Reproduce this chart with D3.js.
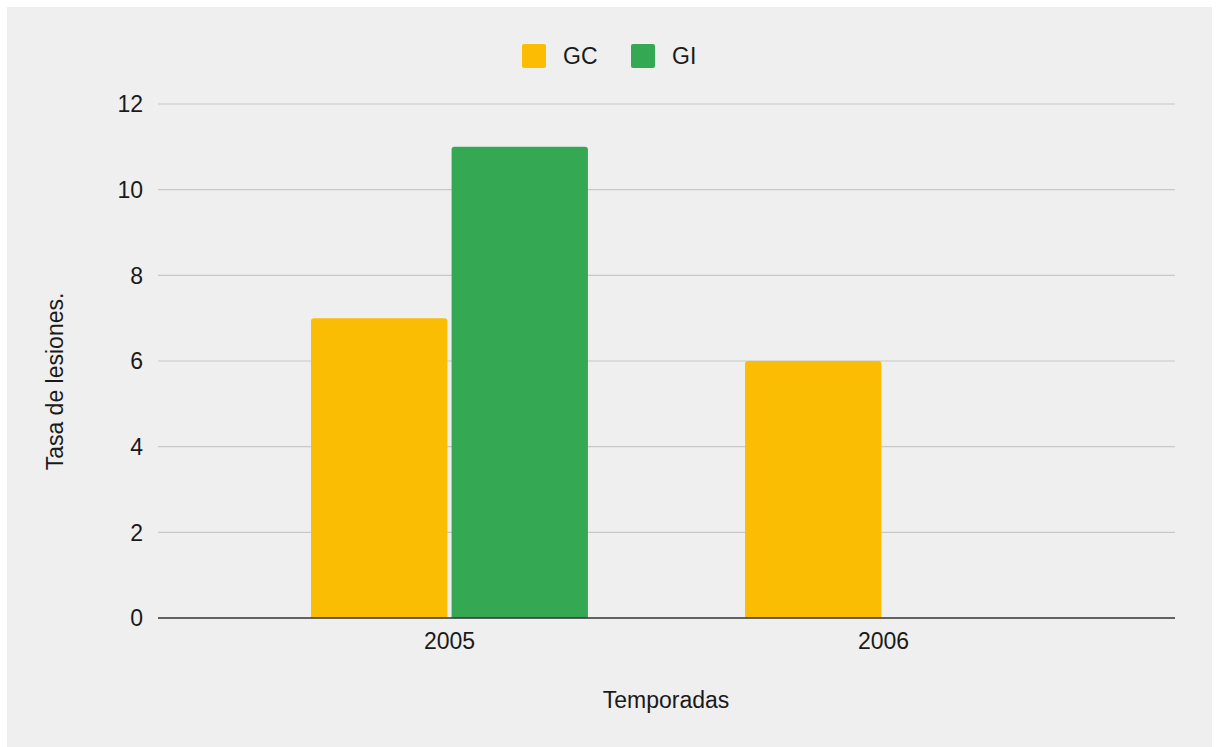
<!DOCTYPE html>
<html>
<head>
<meta charset="utf-8">
<script src="https://cdn.jsdelivr.net/npm/d3@7"></script>
<style>
  body { margin: 0; background: #fff; font-family: "Liberation Sans", Arial, sans-serif; }
</style>
</head>
<body>
<div class="chart"></div>
<script>
// chart data
const years = ["2005", "2006"];
const series = ["GC", "GI"];
const gcValues = [7, 6];
const giValues = [11, 0];
const yTicks = [0, 2, 4, 6, 8, 10, 12];

const width = 1217;
const height = 747;
const colors = { GC: "#fbbc04", GI: "#34a853" };
const fontSize = 23;
const textColor = "#1a1a1a";

const svg = d3.select(".chart")
  .append("svg")
    .attr("width", width)
    .attr("height", height);

// grey panel
svg.append("rect")
  .attr("x", 7).attr("y", 7)
  .attr("width", 1205).attr("height", 740)
  .attr("fill", "#efefef");

const plotLeft = 158, plotRight = 1175, plotTop = 104, plotBottom = 618;

const y = d3.scaleLinear().domain([0, 12]).range([plotBottom, plotTop]);

const x0 = d3.scaleBand()
  .domain(years)
  .range([plotLeft, plotRight])
  .paddingInner(0.362)
  .paddingOuter(0.3525);

const x1 = d3.scaleBand()
  .domain(series)
  .range([0, x0.bandwidth()])
  .paddingInner(0.03);

// gridlines
svg.append("g")
  .selectAll("line")
  .data(yTicks.filter(d => d !== 0))
  .join("line")
    .attr("x1", plotLeft).attr("x2", plotRight)
    .attr("y1", d => y(d)).attr("y2", d => y(d))
    .attr("stroke", "#c8c8c8")
    .attr("stroke-width", 1.2);

// y tick labels
svg.append("g")
  .selectAll("text")
  .data(yTicks)
  .join("text")
    .attr("x", 143)
    .attr("y", d => y(d))
    .attr("dy", "0.36em")
    .attr("text-anchor", "end")
    .attr("font-size", fontSize)
    .attr("fill", textColor)
    .text(d => d);

// bars
const rows = years.map((yr, i) => ({ year: yr, GC: gcValues[i], GI: giValues[i] }));

function topRounded(x, yTop, w, h, r) {
  if (h <= 0) return "";
  r = Math.min(r, h);
  return "M" + x + "," + (yTop + h) +
    "V" + (yTop + r) +
    "Q" + x + "," + yTop + " " + (x + r) + "," + yTop +
    "H" + (x + w - r) +
    "Q" + (x + w) + "," + yTop + " " + (x + w) + "," + (yTop + r) +
    "V" + (yTop + h) + "Z";
}

svg.append("g")
  .selectAll("g")
  .data(rows)
  .join("g")
    .attr("transform", d => "translate(" + x0(d.year) + ",0)")
  .selectAll("path")
  .data(d => series.map(k => ({ key: k, value: d[k] })))
  .join("path")
    .attr("d", d => topRounded(x1(d.key), y(d.value), x1.bandwidth(), y(0) - y(d.value), 3))
    .attr("fill", d => colors[d.key]);

// baseline
svg.append("line")
  .attr("x1", plotLeft).attr("x2", plotRight)
  .attr("y1", y(0)).attr("y2", y(0))
  .attr("stroke", "#333")
  .attr("stroke-width", 1.6);

// x tick labels
svg.append("g")
  .selectAll("text")
  .data(years)
  .join("text")
    .attr("x", d => x0(d) + x0.bandwidth() / 2)
    .attr("y", 649)
    .attr("text-anchor", "middle")
    .attr("font-size", fontSize)
    .attr("fill", textColor)
    .text(d => d);

// axis titles
svg.append("text")
  .attr("x", 666).attr("y", 708)
  .attr("text-anchor", "middle")
  .attr("font-size", fontSize)
  .attr("fill", textColor)
  .text("Temporadas");

svg.append("text")
  .attr("transform", "translate(63,381.5) rotate(-90)")
  .attr("text-anchor", "middle")
  .attr("font-size", fontSize)
  .attr("fill", textColor)
  .text("Tasa de lesiones.");

// legend
const legendX = [522, 631];
const legend = svg.append("g")
  .selectAll("g")
  .data(series)
  .join("g")
    .attr("transform", (d, i) => "translate(" + legendX[i] + ",44)");

legend.append("rect")
  .attr("width", 24).attr("height", 24)
  .attr("rx", 2)
  .attr("fill", d => colors[d]);

legend.append("text")
  .attr("x", 41).attr("y", 19.5)
  .attr("font-size", fontSize)
  .attr("fill", textColor)
  .text(d => d);
</script>
</body>
</html>
